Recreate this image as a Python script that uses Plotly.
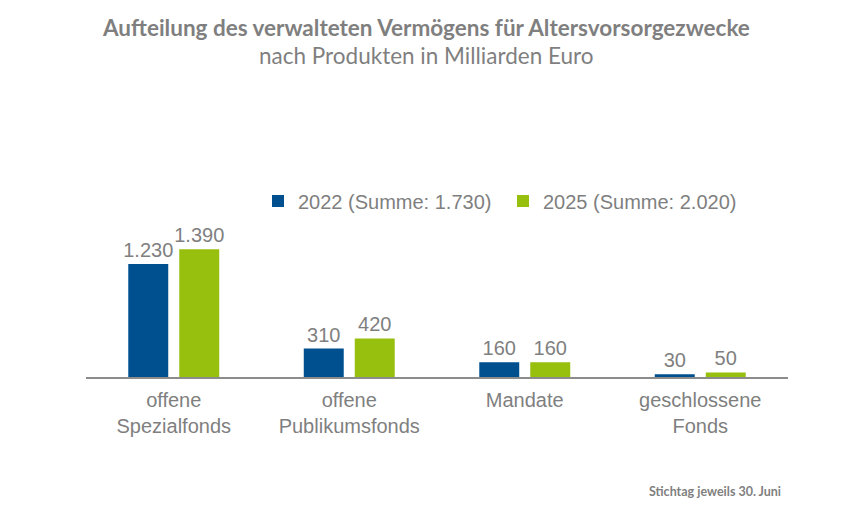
import plotly.graph_objects as go

categories = ["offene<br>Spezialfonds", "offene<br>Publikumsfonds", "Mandate", "geschlossene<br>Fonds"]
series_names = ["2022 (Summe: 1.730)", "2025 (Summe: 2.020)"]
values_2022 = [1230, 310, 160, 30]
values_2025 = [1390, 420, 160, 50]

title_text = "Aufteilung des verwalteten Vermögens für Altersvorsorgezwecke"
subtitle_text = "nach Produkten in Milliarden Euro"
footnote_text = "Stichtag jeweils 30. Juni"

blue = "#00508F"
green = "#97BF0D"
gray = "#7F7F7F"

W, H = 852, 529
L, R, T, B = 86, 64, 180, 152
PH = H - T - B
PW = W - L - R


def py(px):
    return (H - B - px) / PH


def pxx(px):
    return (px - L) / PW


fig = go.Figure()
for name, vals, col in [(series_names[0], values_2022, blue), (series_names[1], values_2025, green)]:
    fig.add_trace(go.Bar(
        x=categories, y=vals, name=name, marker=dict(color=col, line=dict(width=0)),
        texttemplate="%{y:,.0f}", textposition="outside", constraintext="none",
        textfont=dict(family="Liberation Sans, Arial", size=20, color=gray),
        cliponaxis=False,
    ))

fig.update_layout(
    width=W, height=H,
    paper_bgcolor="white", plot_bgcolor="white",
    separators=",.",
    barmode="group", bargap=0.419, bargroupgap=0.216,
    margin=dict(l=L, r=R, t=T, b=B),
    showlegend=True,
    legend=dict(orientation="h", x=pxx(258), xanchor="left", y=py(201), yanchor="middle",
                font=dict(family="Liberation Sans, Arial", size=20, color=gray),
                itemsizing="constant", entrywidth=200, bgcolor="rgba(0,0,0,0)"),
    xaxis=dict(showline=True, linecolor="#8C8C8C", linewidth=2, ticks="",
               tickfont=dict(family="Liberation Sans, Arial", size=20, color=gray),
               ticklabelstandoff=4, showgrid=False),
    yaxis=dict(range=[0, 2144], visible=False, showgrid=False, zeroline=False),
    annotations=[
        dict(text="<b>" + title_text + "</b>", xref="paper", yref="paper", x=pxx(426), xanchor="center",
             y=py(27), yanchor="middle", showarrow=False,
             font=dict(family="Lato", size=22.5, color=gray)),
        dict(text=subtitle_text, xref="paper", yref="paper", x=pxx(426), xanchor="center",
             y=py(55), yanchor="middle", showarrow=False,
             font=dict(family="Lato", size=22.5, color=gray)),
        dict(text="<b>" + footnote_text + "</b>", xref="paper", yref="paper", x=pxx(783), xanchor="right",
             y=py(491), yanchor="middle", showarrow=False,
             font=dict(family="Lato", size=12.5, color=gray)),
    ],
)

fig.write_html("out.html", config={"displayModeBar": False},
               post_script="document.body.style.margin='0px';")
